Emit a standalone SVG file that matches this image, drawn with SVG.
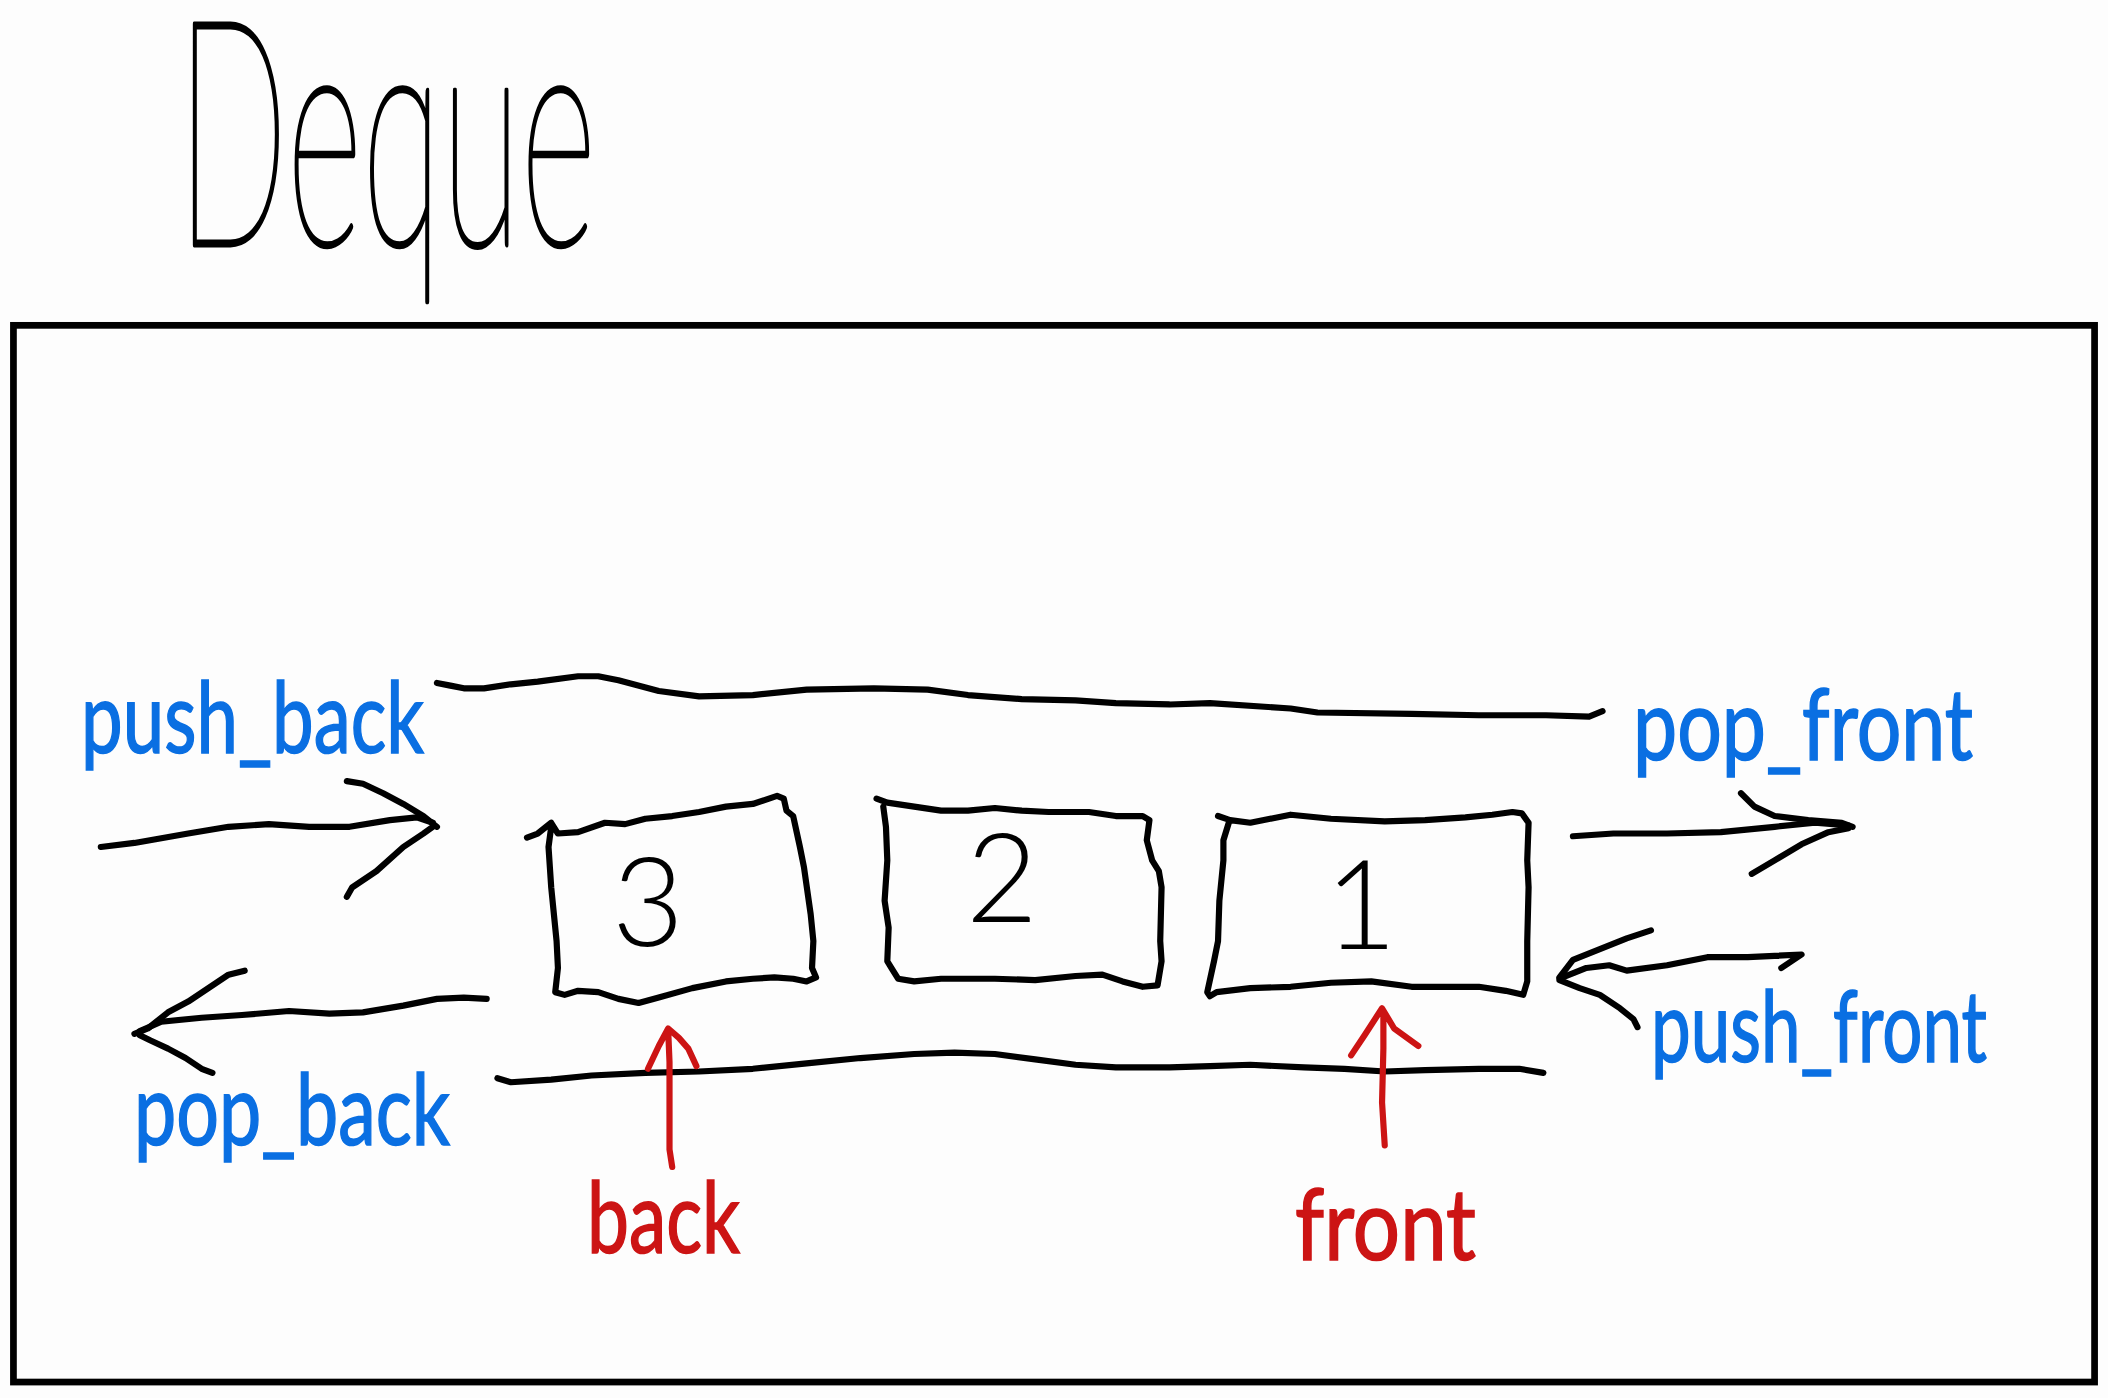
<svg xmlns="http://www.w3.org/2000/svg" width="2108" height="1398" viewBox="0 0 2108 1398">
<style>
.ink{fill:none;stroke:#000;stroke-width:4.6;stroke-linecap:round;stroke-linejoin:round}
.red{fill:none;stroke:#cc1414;stroke-width:4.6;stroke-linecap:round;stroke-linejoin:round}
.blue{fill:#0a6fe2;stroke:#0a6fe2;stroke-width:1.6;font-family:Lato,"Liberation Sans",sans-serif;font-weight:400;font-size:99px}
.rtxt{fill:#cc1414;stroke:#cc1414;stroke-width:1.6;font-family:Lato,"Liberation Sans",sans-serif;font-weight:400;font-size:98px}
.num{fill:#000;font-family:Lato,"Liberation Sans",sans-serif;font-weight:300;font-size:124px;text-anchor:middle}
</style>
<rect width="2108" height="1398" fill="#fdfdfd"/>
<g id="title"><text x="177" y="245" font-family="Lato,'Liberation Sans',sans-serif" font-weight="100" font-size="316" textLength="419" lengthAdjust="spacingAndGlyphs" fill="#000" stroke="#000" stroke-width="4.8" stroke-linejoin="round">Deque</text></g>
<g transform="scale(1.3444)">
<g id="frame"><rect x="10" y="242" width="1548" height="786" fill="none" stroke="#000" stroke-width="5"/></g>
<g id="deque-body">
<path class="ink" d="M325,508 L335,510 L345,512 L360,512 L380,509 L400,507 L430,503 L445,503 L460,506 L490,514 L520,518 L560,517 L600,513 L650,512 L690,513 L720,517 L760,520 L800,521 L830,523 L870,524 L900,523 L960,527 L980,530 L1050,531 L1100,532 L1150,532 L1182,533 L1192,529"/>
<path class="ink" d="M370,802 L380,805 L410,803 L440,800 L480,798 L520,797 L560,795 L600,791 L640,787 L680,784 L710,783 L740,784 L770,788 L800,792 L830,794 L870,794 L900,793 L930,792 L970,794 L1000,795 L1030,797 L1060,796 L1100,795 L1130,795 L1148,798"/>
</g>
<g id="box3">
<path class="ink" d="M392,623 L400,620 L410,612 L415,620 L430,619 L450,612 L465,613 L480,609 L500,607 L520,604 L540,600 L560,598 L578,592 L583,594 L585,603 L590,607 L595,630 L598,645 L603,680 L605,700 L604,720 L607,727 L600,730 L590,728 L576,727 L560,728 L540,730 L515,735 L490,742 L475,746 L460,743 L445,738 L430,737 L420,740 L413,738 L415,720 L414,700 L410,660 L408,630 L410,615"/>
</g>
<g id="box2">
<path class="ink" d="M652,594 L660,597 L680,600 L700,603 L720,603 L740,601 L760,603 L780,604 L810,604 L830,607 L850,607 L855,610 L853,625 L857,640 L862,648 L864,660 L863,700 L864,715 L861,733 L850,734 L835,730 L820,725 L800,726 L770,729 L740,728 L700,728 L680,730 L668,728 L663,720 L660,715 L661,690 L658,670 L660,640 L659,615 L657,600"/>
</g>
<g id="box1">
<path class="ink" d="M906,607 L915,610 L930,612 L960,606 L990,609 L1030,611 L1060,610 L1090,608 L1110,606 L1125,604 L1132,605 L1137,612 L1136,640 L1137,660 L1136,700 L1136,730 L1133,740 L1120,737 L1100,734 L1080,734 L1050,734 L1020,730 L990,731 L960,734 L930,735 L905,738 L900,741 L898,738 L903,715 L906,700 L907,670 L910,640 L910,625 L914,612"/>
</g>
<g id="connectors">
<path class="ink" d="M75,630 L100,627 L140,620 L170,615 L200,613 L230,615 L260,615 L290,610 L310,608 L322,612"/>
<path class="ink" d="M258,581 L270,583 L285,590 L300,598 L315,607 L325,615 M258,667 L262,660 L280,648 L300,630 L315,620 L322,615"/>
<path class="ink" d="M362,743 L345,742 L325,743 L300,748 L270,753 L245,754 L215,752 L180,755 L150,757 L120,760 L104,767"/>
<path class="ink" d="M182,722 L170,725 L155,735 L140,745 L125,753 L110,765 L100,769 M158,798 L150,795 L138,787 L125,780 L112,774 L104,770"/>
<path class="ink" d="M1170,622 L1200,620 L1240,620 L1280,619 L1320,615 L1350,612 L1375,614"/>
<path class="ink" d="M1295,590 L1305,600 L1320,607 L1345,610 L1370,612 L1378,615 M1303,650 L1320,640 L1340,628 L1360,619 L1375,616"/>
<path class="ink" d="M1325,720 L1340,710 L1300,712 L1270,712 L1240,718 L1210,722 L1197,718 L1180,720 L1160,728"/>
<path class="ink" d="M1228,692 L1210,698 L1190,706 L1170,714 L1160,727 M1160,729 L1175,735 L1190,740 L1205,750 L1215,758 L1218,764"/>
<path class="red" d="M500,868 L498,855 L498,820 L498,790 L497,766 M482,795 L490,778 L497,765 L505,772 L512,780 L518,793"/>
<path class="red" d="M1030,852 L1028,820 L1029,780 L1029,752 M1005,785 L1015,770 L1028,750 L1037,765 L1055,778"/>
</g>
</g>
<g id="numbers">
<text class="num" x="648" y="946">3</text>
<text class="num" x="1002" y="922">2</text>
<text class="num" x="1361" y="949">1</text>
</g>
<g id="labels">
<text class="blue" x="81" y="753" textLength="343" lengthAdjust="spacingAndGlyphs">push_back</text>
<text class="blue" x="1633" y="760" textLength="340" lengthAdjust="spacingAndGlyphs">pop_front</text>
<text class="blue" x="134" y="1145" textLength="316" lengthAdjust="spacingAndGlyphs">pop_back</text>
<text class="blue" x="1651" y="1062" textLength="336" lengthAdjust="spacingAndGlyphs">push_front</text>
<text class="rtxt" x="587" y="1253" textLength="153" lengthAdjust="spacingAndGlyphs">back</text>
<text class="rtxt" x="1295" y="1260" textLength="181" lengthAdjust="spacingAndGlyphs">front</text>
</g>
</svg>
